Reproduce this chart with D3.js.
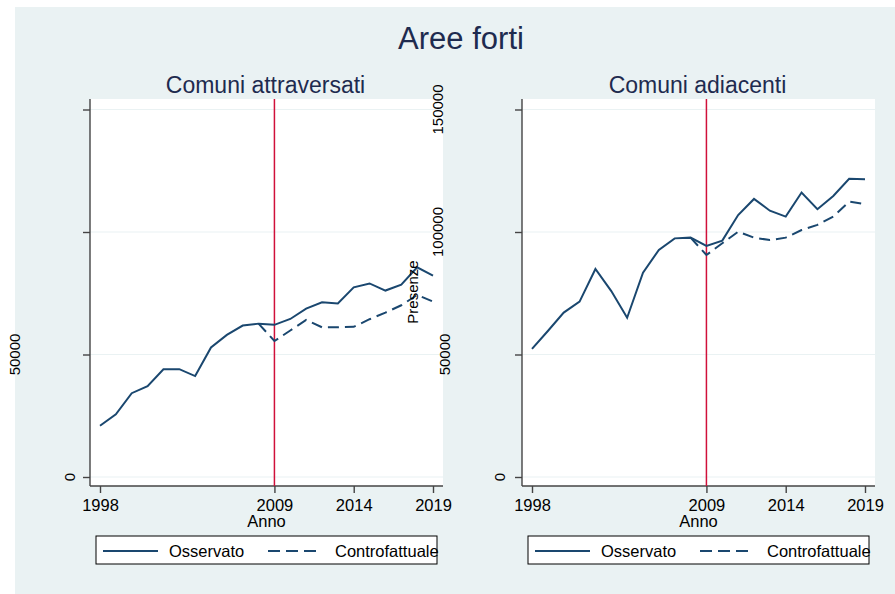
<!DOCTYPE html>
<html>
<head>
<meta charset="utf-8">
<script src="https://cdn.jsdelivr.net/npm/d3@7"></script>
<style>
  body { margin: 0; background: #fff; }
  text { font-family: "Liberation Sans", Arial, sans-serif; }
</style>
</head>
<body>
<script>
// data
var years = [1998, 1999, 2000, 2001, 2002, 2003, 2004, 2005, 2006, 2007, 2008,
             2009, 2010, 2011, 2012, 2013, 2014, 2015, 2016, 2017, 2018, 2019];
var cfYears = [2008, 2009, 2010, 2011, 2012, 2013, 2014, 2015, 2016, 2017, 2018, 2019];

var attraversatiObs = [20900, 25600, 34200, 37100, 44000, 44000, 41200, 52900, 58000, 61800, 62600,
                       62100, 64500, 68700, 71300, 70800, 77400, 79000, 76100, 78500, 85600, 82200];
var attraversatiCf = [62600, 55500, 59800, 64100, 61100, 61100, 61300, 64400, 67100, 70100, 74300, 71600];

var adiacentiObs = [52300, 59600, 67100, 71600, 84900, 75900, 65000, 83400, 92700, 97400, 97700,
                    94300, 96500, 106900, 113500, 108700, 106300, 116100, 109300, 114700, 121700, 121500];
var adiacentiCf = [97700, 90600, 95400, 100100, 97700, 96700, 97700, 100800, 102900, 106300, 112400, 111400];

var xTicks = [1998, 2009, 2014, 2019];
var yTicks = [0, 50000, 100000, 150000];
var treatYear = 2009;

var w = 895, h = 594;
var navy = "#1a476f";
var redLine = "#d0103a";

var svg = d3.select("body").append("svg").attr("width", w).attr("height", h);

svg.append("rect").attr("x", 15).attr("y", 7).attr("width", w - 15).attr("height", h - 7)
  .attr("fill", "#eaf2f3");

svg.append("text").attr("x", 461).attr("y", 49).attr("text-anchor", "middle")
  .attr("font-size", 31).attr("fill", "#1e2b4f").text("Aree forti");

// panels: plot area box and where Stata put the y labels
var panels = [
  { title: "Comuni attraversati", obs: attraversatiObs, cf: attraversatiCf, left: 90, right: 443,
    ylabX: { 0: 75, 50000: 20, 100000: 443, 150000: 443 } },
  { title: "Comuni adiacenti", obs: adiacentiObs, cf: adiacentiCf, left: 522, right: 875,
    ylabX: { 0: 505, 50000: 450 } }
];
var plotTop = 99, plotBottom = 486;

var y = d3.scaleLinear().domain([0, 150000]).range([477, 109.5]);

panels.forEach(function (p) {
  var x = d3.scaleLinear().domain([1998, 2019]).range([p.left + 10, p.right - 10]);
  var g = svg.append("g");

  g.append("rect").attr("x", p.left).attr("y", plotTop)
    .attr("width", p.right - p.left).attr("height", plotBottom - plotTop).attr("fill", "#fff");

  // grid
  g.selectAll(".grid").data(yTicks).enter().append("line")
    .attr("x1", p.left).attr("x2", p.right)
    .attr("y1", function (d) { return y(d); }).attr("y2", function (d) { return y(d); })
    .attr("stroke", "#eaf2f3").attr("stroke-width", 1.2);

  // axes
  var ya = g.append("g").attr("transform", "translate(" + p.left + ",0)")
    .call(d3.axisLeft(y).tickValues(yTicks).tickSize(7).tickFormat(""));
  ya.select(".domain").attr("d", "M0," + plotTop + "V" + plotBottom);
  var xa = g.append("g").attr("transform", "translate(0," + plotBottom + ")")
    .call(d3.axisBottom(x).tickValues(xTicks).tickSize(7).tickFormat(d3.format("d")));
  xa.select(".domain").attr("d", "M" + p.left + ",0H" + p.right);
  g.selectAll(".domain, .tick line").attr("stroke", "#444").attr("stroke-width", 1.4);
  xa.selectAll("text").attr("font-size", 16.5).attr("fill", "#000").attr("dy", null).attr("y", 25)
    .style("font-family", "'Liberation Sans', Arial, sans-serif");

  g.append("text").attr("x", (p.left + p.right) / 2).attr("y", 527).attr("text-anchor", "middle")
    .attr("font-size", 16.5).text("Anno");

  g.append("text").attr("x", (p.left + p.right) / 2 - 1).attr("y", 93).attr("text-anchor", "middle")
    .attr("font-size", 23).attr("fill", "#1e2b4f").text(p.title);

  // treatment line
  g.append("line").attr("x1", x(treatYear)).attr("x2", x(treatYear))
    .attr("y1", plotTop).attr("y2", plotBottom).attr("stroke", redLine).attr("stroke-width", 1.5);

  var line = d3.line().x(function (d) { return x(d[0]); }).y(function (d) { return y(d[1]); });
  g.append("path").datum(d3.zip(cfYears, p.cf)).attr("d", line)
    .attr("fill", "none").attr("stroke", navy).attr("stroke-width", 2).attr("stroke-dasharray", "11,6");
  g.append("path").datum(d3.zip(years, p.obs)).attr("d", line)
    .attr("fill", "none").attr("stroke", navy).attr("stroke-width", 2);

  // legend
  var lx = p.left + 6;
  var lg = svg.append("g");
  lg.append("rect").attr("x", lx).attr("y", 536).attr("width", 341).attr("height", 28)
    .attr("fill", "#fff").attr("stroke", "#000").attr("stroke-width", 1);
  lg.append("line").attr("x1", lx + 7).attr("x2", lx + 62).attr("y1", 551).attr("y2", 551)
    .attr("stroke", navy).attr("stroke-width", 2);
  lg.append("text").attr("x", lx + 73).attr("y", 557).attr("font-size", 16.5).text("Osservato");
  lg.append("line").attr("x1", lx + 172).attr("x2", lx + 223).attr("y1", 551).attr("y2", 551)
    .attr("stroke", navy).attr("stroke-width", 2).attr("stroke-dasharray", "12,6");
  lg.append("text").attr("x", lx + 239).attr("y", 557).attr("font-size", 16.5).text("Controfattuale");
});

// y tick labels, rotated, where the reference has them
panels.forEach(function (p) {
  Object.keys(p.ylabX).forEach(function (k) {
    var v = +k, lx = p.ylabX[k];
    svg.append("text").attr("transform", "translate(" + lx + "," + y(v) + ") rotate(-90)")
      .attr("text-anchor", "middle").attr("font-size", 15).text(v);
  });
});

svg.append("text").attr("transform", "translate(418,292) rotate(-90)")
  .attr("text-anchor", "middle").attr("font-size", 15).text("Presenze");
</script>
</body>
</html>
